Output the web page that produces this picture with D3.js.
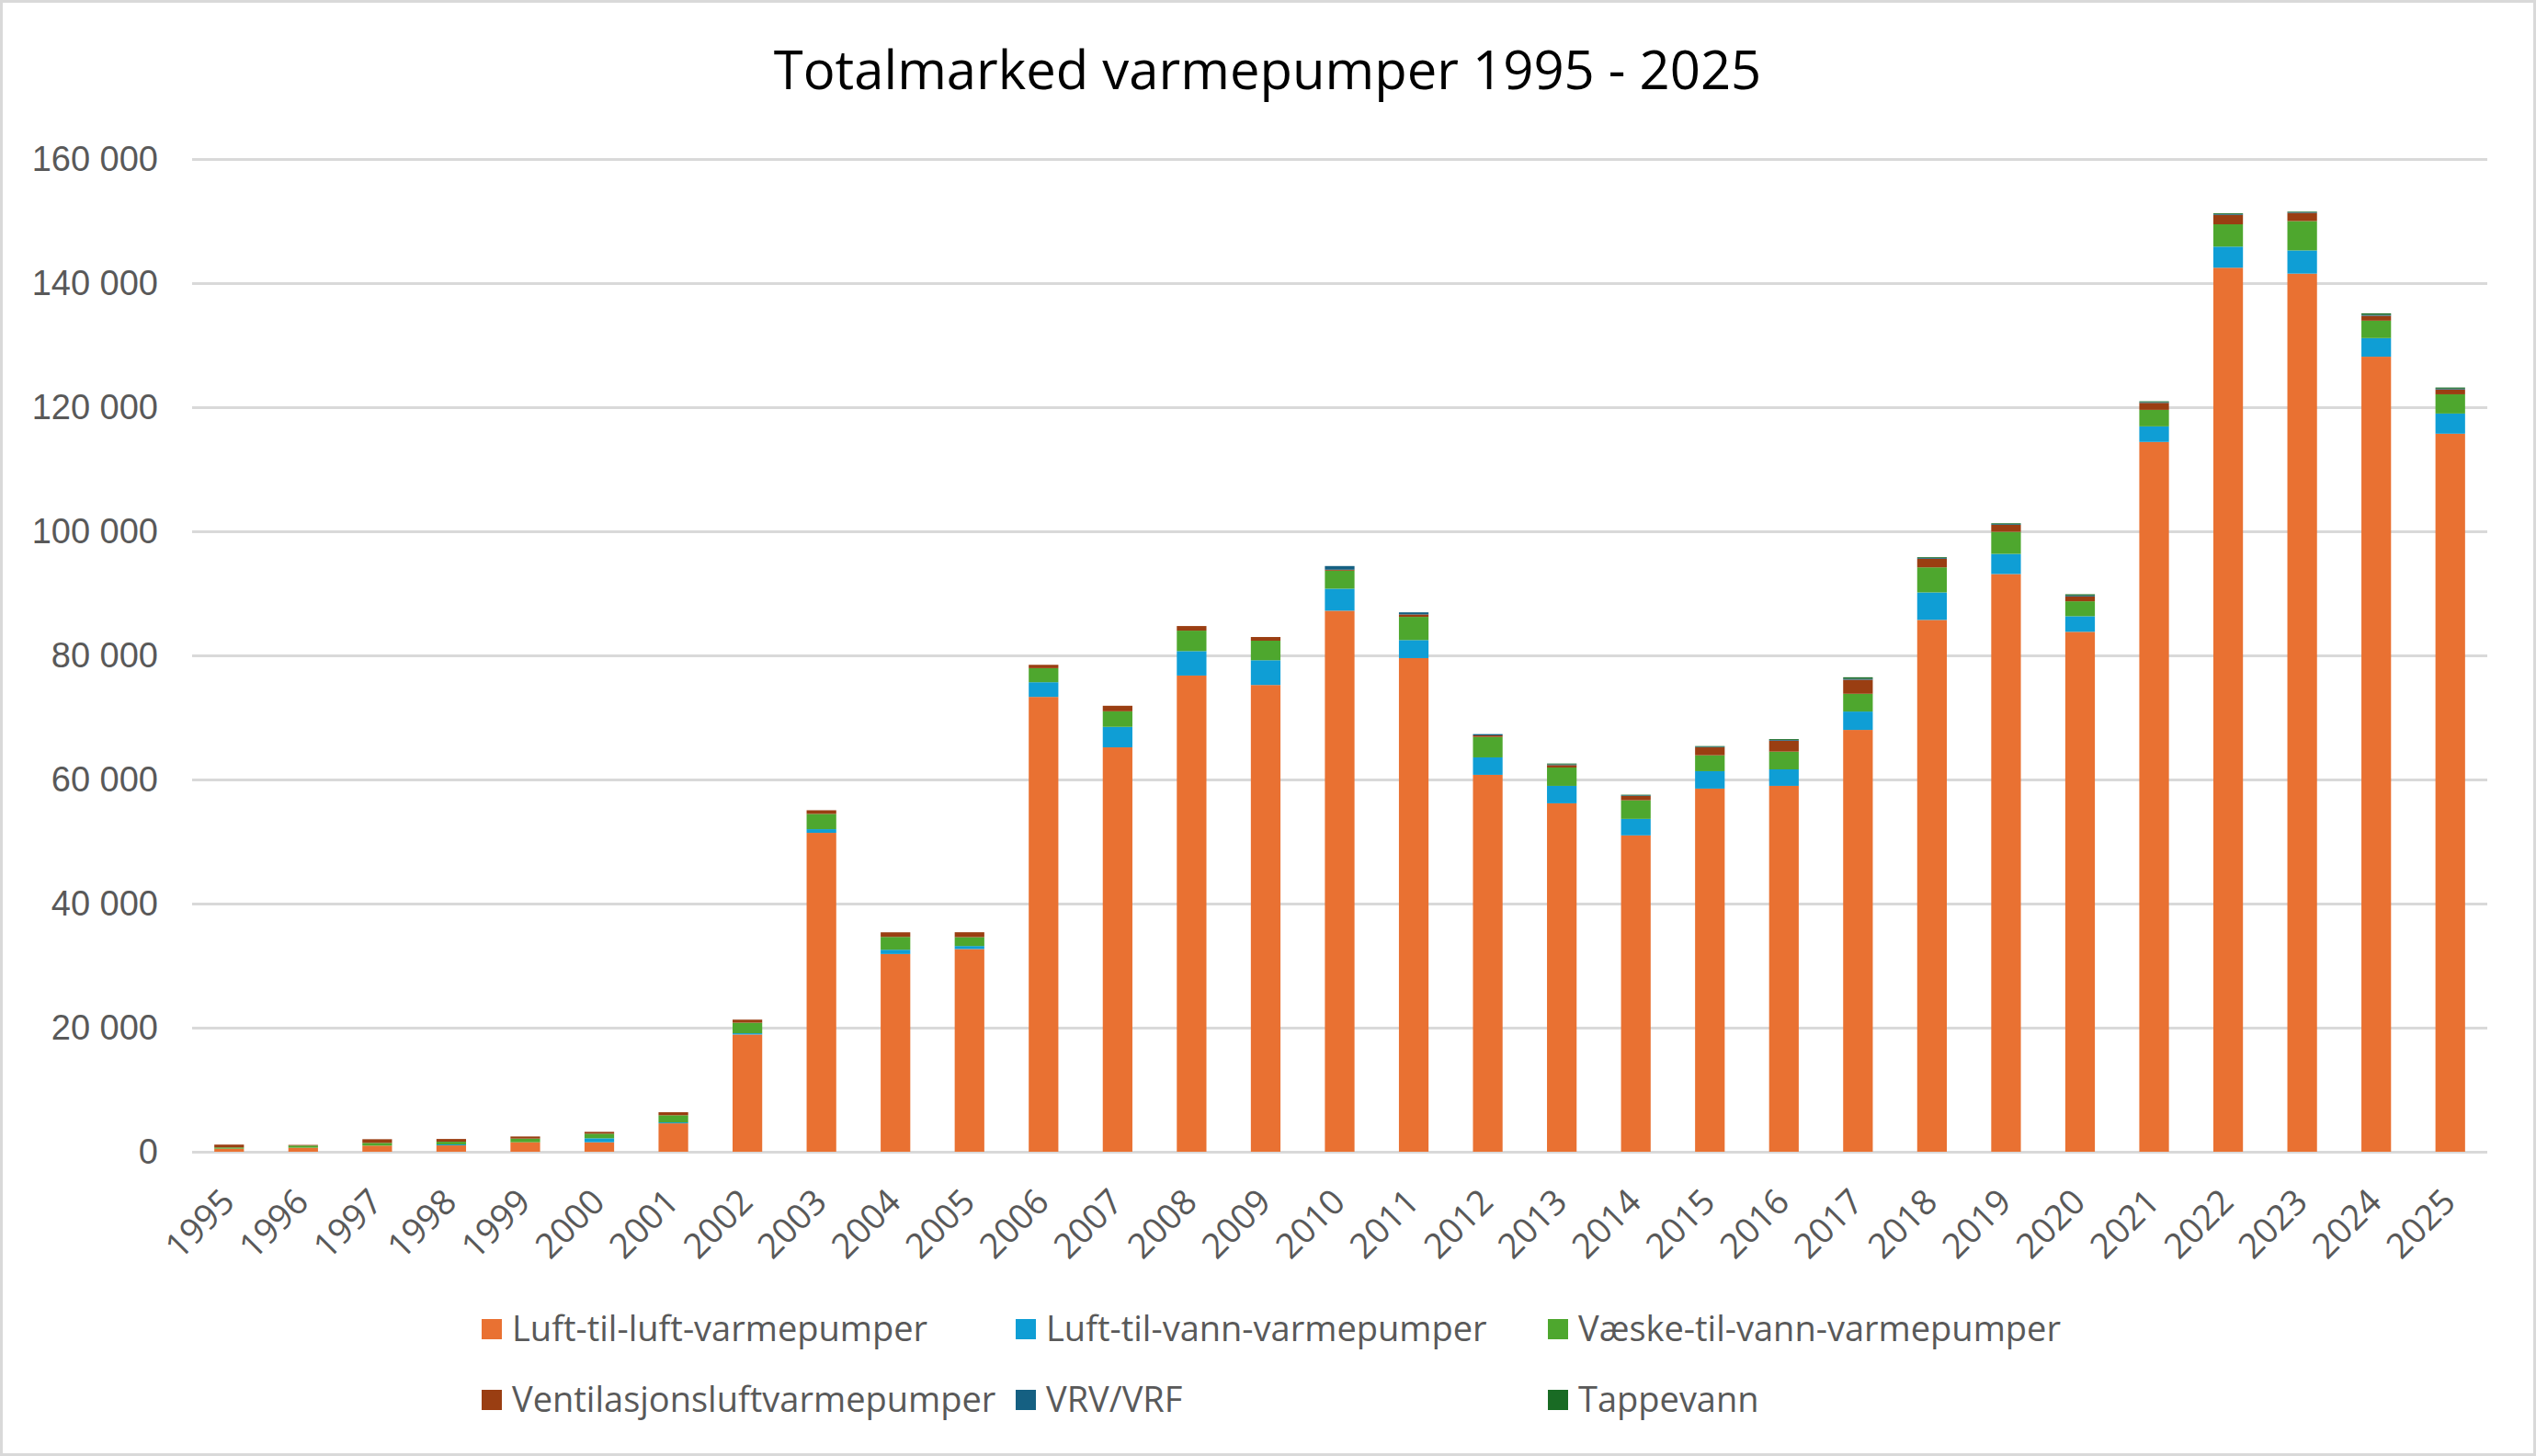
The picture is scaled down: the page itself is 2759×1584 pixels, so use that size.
<!DOCTYPE html>
<html>
<head>
<meta charset="utf-8">
<script src="https://cdn.jsdelivr.net/npm/d3@7.9.0/dist/d3.min.js"></script>
<style>
  body { margin: 0; background: #fff; }
  svg { display: block; font-family: 'Open Sans', 'Noto Sans', sans-serif; }
</style>
</head>
<body>
<svg id="chart" width="2759" height="1584"></svg>
<script>
const years = d3.range(1995, 2026).map(String);

const luftLuft = [500, 650, 990, 1030, 1530, 1530, 4580, 18900, 51400, 31870, 32670, 73310, 65180, 76750, 75230,
    87200, 79560, 60750, 56160, 50990, 58530, 58970, 67990, 85720, 93110, 83800, 114400, 142480, 141530, 128140, 115730];
const luftVann = [0, 0, 0, 150, 0, 640, 150, 200, 590, 690, 490, 2365, 3300, 3940, 3990,
    3550, 2910, 2810, 2810, 2660, 2810, 2660, 2960, 4430, 3250, 2510, 2510, 3400, 3740, 3000, 3250];
const vaeskeVann = [200, 350, 440, 440, 590, 740, 1150, 1700, 2460, 2070, 1430, 2265, 2510, 3300, 3150,
    2910, 3740, 3300, 2960, 3000, 2560, 2860, 2860, 4040, 3550, 2410, 2660, 3600, 4730, 2810, 3100];
const ventilasjon = [450, 100, 590, 440, 340, 300, 490, 490, 590, 740, 790, 540, 890, 740, 590,
    150, 390, 250, 390, 690, 1280, 1770, 2270, 1380, 1130, 790, 1130, 1530, 1330, 790, 790];
const vrv = [0, 0, 0, 0, 0, 0, 0, 0, 0, 0, 0, 0, 0, 0, 0,
    590, 340, 200, 120, 100, 100, 120, 150, 120, 120, 150, 120, 120, 100, 150, 120];
const tappevann = [0, 0, 0, 0, 0, 0, 0, 0, 0, 0, 0, 0, 0, 0, 0,
    0, 0, 0, 130, 100, 100, 130, 240, 130, 130, 190, 130, 130, 100, 240, 180];

const seriesNames = ['Luft-til-luft-varmepumper', 'Luft-til-vann-varmepumper', 'Væske-til-vann-varmepumper',
    'Ventilasjonsluftvarmepumper', 'VRV/VRF', 'Tappevann'];
const seriesValues = [luftLuft, luftVann, vaeskeVann, ventilasjon, vrv, tappevann];
const seriesColors = ['#E97132', '#0F9ED5', '#4EA72E', '#9A3E12', '#156082', '#196B24'];
const yTicks = d3.range(0, 160001, 20000);

const rows = years.map((year, i) => {
    const row = { year };
    seriesNames.forEach((name, s) => { row[name] = seriesValues[s][i]; });
    return row;
});

const svg = d3.select('#chart');
const plotLeft = 209, plotRight = 2706, plotTop = 173, plotBottom = 1253;

const x = d3.scaleBand().domain(years).range([plotLeft, plotRight]).paddingInner(0.6).paddingOuter(0.3);
const y = d3.scaleLinear().domain([0, 160000]).range([plotBottom, plotTop]);
const color = d3.scaleOrdinal().domain(seriesNames).range(seriesColors);
const fmt = d3.formatLocale({ decimal: ',', thousands: ' ', grouping: [3], currency: ['', ''] }).format(',d');

// chart border
svg.append('rect')
    .attr('x', 1.5).attr('y', 1.5)
    .attr('width', 2756).attr('height', 1581)
    .attr('fill', '#fff').attr('stroke', '#d9d9d9').attr('stroke-width', 3);

svg.append('text')
    .attr('x', 1379).attr('y', 97)
    .attr('text-anchor', 'middle')
    .attr('font-size', 58)
    .attr('fill', '#000')
    .text('Totalmarked varmepumper 1995 - 2025');

// gridlines + y labels
const yAxis = svg.append('g')
    .attr('transform', `translate(${plotLeft},0)`)
    .call(d3.axisLeft(y).tickValues(yTicks).tickSize(-(plotRight - plotLeft)).tickPadding(37).tickFormat(fmt));
yAxis.select('.domain').remove();
yAxis.selectAll('line').attr('stroke', '#d9d9d9').attr('stroke-width', 3);
yAxis.selectAll('text').attr('font-size', 38).attr('fill', '#595959').attr('font-family', null);

const stacked = d3.stack().keys(seriesNames)(rows);

svg.append('g').selectAll('g')
    .data(stacked)
    .join('g')
    .attr('fill', (d) => color(d.key))
    .selectAll('rect')
    .data((d) => d)
    .join('rect')
    .attr('x', (d) => x(d.data.year))
    .attr('width', x.bandwidth())
    .attr('y', (d) => y(d[1]))
    .attr('height', (d) => y(d[0]) - y(d[1]));

// x labels
svg.append('g').selectAll('text')
    .data(years)
    .join('text')
    .attr('transform', (d) => `translate(${x(d) + x.bandwidth() / 2 + 8},1310) rotate(-45)`)
    .attr('text-anchor', 'end')
    .attr('font-size', 38)
    .attr('fill', '#595959')
    .text((d) => d);

// legend
const legendPos = [[524, 1446], [1105, 1446], [1684, 1446], [524, 1523], [1105, 1523], [1684, 1523]];
const legend = svg.append('g').selectAll('g')
    .data(seriesNames)
    .join('g')
    .attr('transform', (d, i) => `translate(${legendPos[i][0]},${legendPos[i][1]})`);
legend.append('rect')
    .attr('x', 0).attr('y', -11)
    .attr('width', 22).attr('height', 22)
    .attr('fill', (d) => color(d));
legend.append('text')
    .attr('x', 33).attr('y', 13)
    .attr('font-size', 38)
    .attr('fill', '#595959')
    .text((d) => d);
</script>
</body>
</html>
